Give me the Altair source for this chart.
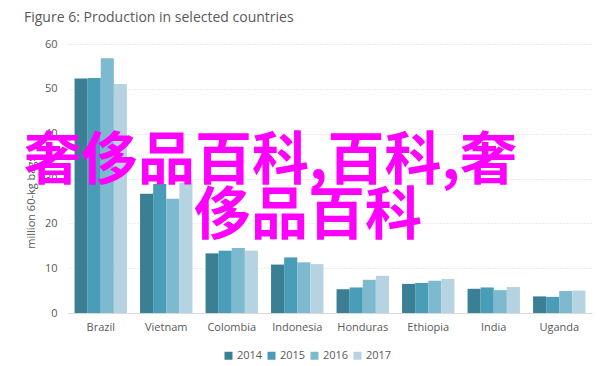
import altair as alt
import pandas as pd

countries = ["Brazil", "Vietnam", "Colombia", "Indonesia", "Honduras", "Ethiopia", "India", "Uganda"]
years = ["2014", "2015", "2016", "2017"]
v2014 = [52.3, 26.6, 13.3, 10.8, 5.3, 6.5, 5.4, 3.7]
v2015 = [52.4, 28.8, 13.9, 12.4, 5.7, 6.7, 5.7, 3.6]
v2016 = [56.8, 25.5, 14.5, 11.3, 7.4, 7.2, 5.1, 4.9]
v2017 = [51.1, 29.0, 13.9, 10.9, 8.3, 7.6, 5.8, 5.0]
colors = ["#3b7f95", "#4a9db6", "#7db9cf", "#b5d3e0"]

overlay_text = ["奢侈品百科,百科,奢", "侈品百科"]
overlay_y = [33.6, 21.4]

rows = []
for yr, vals in zip(years, [v2014, v2015, v2016, v2017]):
    for c, v in zip(countries, vals):
        rows.append({"country": c, "year": yr, "value": v})
df = pd.DataFrame(rows)

FONT = "Open Sans"
GRAY = "#595959"

bars = alt.Chart(df).mark_bar().encode(
    x=alt.X("country:N", sort=countries,
            scale=alt.Scale(paddingInner=0.2, paddingOuter=0.1),
            axis=alt.Axis(title=None, labelAngle=0, ticks=False, domainColor="#d9d9d9",
                          labelPadding=8, labelColor=GRAY, labelFontSize=11, labelFont=FONT,
                          grid=False)),
    xOffset=alt.XOffset("year:N", sort=years),
    y=alt.Y("value:Q", scale=alt.Scale(domain=[0, 60]),
            axis=alt.Axis(title="million 60-kg bags", values=[0, 10, 20, 30, 40, 50, 60],
                          ticks=False, domain=False, labelPadding=11, labelColor=GRAY,
                          labelFontSize=11, labelFont=FONT, grid=True, gridColor="#d9d9d9",
                          gridDash=[1, 2], titleFont=FONT, titleFontSize=11, titleColor=GRAY,
                          titleFontWeight="normal", titleX=-37, titleY=158, titleAngle=270,
                          titleAlign="center", titleBaseline="middle")),
    color=alt.Color("year:N", sort=years, scale=alt.Scale(domain=years, range=colors),
                    legend=alt.Legend(title=None, orient="none", direction="horizontal",
                                      legendX=155, legendY=306, symbolType="square",
                                      symbolSize=64, symbolStrokeWidth=0, labelFont=FONT,
                                      labelFontSize=11, labelColor=GRAY, columnPadding=3,
                                      labelOffset=3, padding=0)),
)

odf = pd.DataFrame({"t": overlay_text, "y": overlay_y, "x": [-44, 126]})
overlay = alt.Chart(odf).mark_text(
    font="Noto Sans CJK SC", fontSize=57, fontWeight="bold", color="#ff00ff",
    align="left", baseline="middle"
).encode(
    x=alt.X("x:Q", scale=None),
    y=alt.Y("y:Q"),
    text="t:N",
)

chart = alt.layer(bars, overlay).properties(
    width=524, height=269,
    autosize=alt.AutoSizeParams(type="none"),
    padding={"left": 60, "top": 36, "right": 12, "bottom": 50},
    title=alt.TitleParams("Figure 6: Production in selected countries", anchor="start",
                          frame="group", dx=-44, dy=14, offset=16, baseline="alphabetic",
                          font=FONT, fontSize=14, fontWeight="normal", color=GRAY),
).configure_view(stroke=None)

chart.save("out.html", embed_options={"renderer": "svg", "actions": False})
